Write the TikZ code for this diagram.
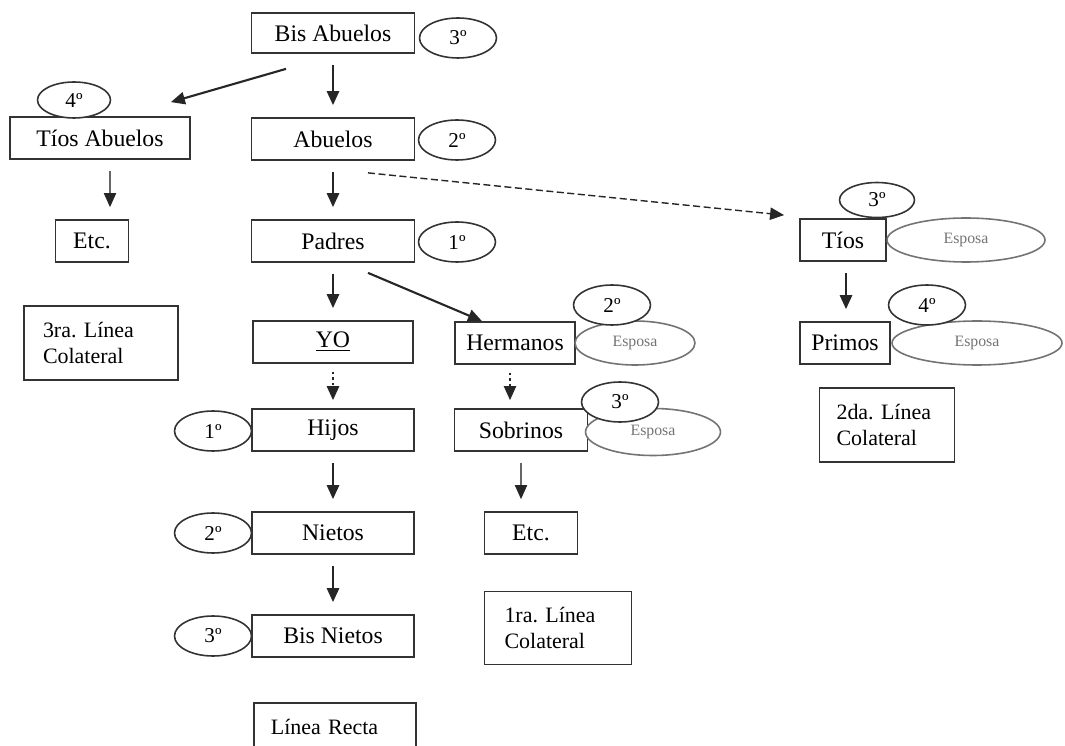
\documentclass[tikz,border=0pt]{standalone}
\usepackage{fontspec}
\setmainfont{Liberation Serif}
\usetikzlibrary{arrows.meta,shapes.geometric,calc}
\tikzset{
	box/.style={draw=black!80, line width=1pt, fill=white, minimum width=3.26cm, minimum height=0.84cm, inner sep=2pt, font=\fontsize{13.5}{15}\selectfont},
	grado/.style={draw=black!80, line width=0.9pt, fill=white, ellipse, minimum width=1.54cm, minimum height=0.8cm, inner sep=0pt, font=\fontsize{12}{14}\selectfont},
	esposa/.style={draw=black!55, line width=0.9pt, fill=white, ellipse, minimum width=2.5cm, minimum height=0.88cm, inner sep=0pt, text=black!55, font=\fontsize{9}{11}\selectfont},
	nota/.style={draw=black!80, line width=1pt, align=left, inner ysep=4pt, font=\fontsize{12.5}{15}\selectfont},
	flecha/.style={-{Triangle[width=7pt,length=8pt,color=black!85]}, line width=1.2pt, black!85, shorten <=0.22cm, shorten >=0.24cm},
}

\begin{document}
\begin{tikzpicture}[x=0.02cm,y=-0.02cm]
	\useasboundingbox (0,0) rectangle (1065,746);
	
	% linea recta
	\node[box, minimum height=0.8cm] (bisab) at (333,33) {Bis Abuelos};
	\node[grado] (g3a) at (458,38) {3º};
	\node[box] (abuelos) at (333,139) {Abuelos};
	\node[grado] (g2a) at (457,140) {2º};
	\node[box] (padres) at (333,241) {Padres};
	\node[grado] (g1a) at (457,242) {1º};
	\node[box, minimum width=3.2cm] (yo) at (333,342) {\underline{YO}};
	\node[box, minimum width=3.24cm] (hijos) at (333,430) {Hijos};
	\node[grado] (g1b) at (213,431) {1º};
	\node[box, minimum width=3.24cm] (nietos) at (333,533) {Nietos};
	\node[grado] (g2c) at (213,533) {2º};
	\node[box, minimum width=3.24cm] (bisn) at (333,636) {Bis Nietos};
	\node[grado] (g3d) at (213,636) {3º};
	\node[nota, anchor=north west, text width=2.56cm, inner xsep=0.34cm, minimum height=0.96cm] (recta) at (253,702) {Línea Recta};
	
	% tercera colateral
	\node[box, minimum width=3.6cm] (tiosab) at (100,138) {Tíos Abuelos};
	\node[grado, minimum width=1.46cm, minimum height=0.72cm] (g4a) at (74,100) {4º};
	\node[box, minimum width=1.46cm] (etca) at (92,241) {Etc.};
	\node[nota, text width=2.32cm, inner xsep=0.38cm, minimum height=1.48cm] (nota3) at (101,343) {3ra.\ Línea\\Colateral};
	
	% primera colateral
	\node[box, minimum width=2.4cm] (herm) at (515,343) {Hermanos};
	\node[esposa, minimum width=2.4cm] (esp1) at (635,343) {Esposa};
	\node[grado] (g2b) at (612,305) {2º};
	\node[box, minimum width=2.66cm] (sobr) at (521,430) {Sobrinos};
	\node[esposa, minimum width=2.7cm, minimum height=0.94cm] (esp4) at (653,432) {Esposa};
	\node[grado] (g3c) at (620,402) {3º};
	\node[box, minimum width=1.86cm] (etcb) at (531,533) {Etc.};
	\node[nota, text width=2.14cm, inner xsep=0.4cm, minimum height=1.46cm] (nota1) at (558,628) {1ra.\ Línea\\Colateral};
	
	% segunda colateral
	\node[box, minimum width=1.72cm] (tios) at (843,240) {Tíos};
	\node[esposa, minimum width=3.16cm] (esp2) at (966,240) {Esposa};
	\node[grado, minimum width=1.5cm, minimum height=0.7cm] (g3b) at (877,200) {3º};
	\node[box, minimum width=1.8cm] (primos) at (845,343) {Primos};
	\node[esposa, minimum width=3.4cm] (esp3) at (977,343) {Esposa};
	\node[grado] (g4b) at (927,305) {4º};
	\node[nota, text width=2.02cm, inner xsep=0.34cm, minimum height=1.48cm] (nota2) at (887,425) {2da.\ Línea\\Colateral};
	
	\foreach \a/\b in {bisab/abuelos, abuelos/padres, padres/yo, hijos/nietos, nietos/bisn}
		\draw[flecha] (\a) -- (\b);
	\draw[flecha] ([xshift=0.06cm]tios.south) -- ([xshift=0.06cm]tios.south |- primos.north);
	\draw[flecha, line width=0.6pt, black!60] ([xshift=0.2cm]tiosab.south) -- ([xshift=0.2cm]tiosab.south |- etca.north);
	\draw[flecha, line width=0.6pt, black!60] (sobr.south) -- (sobr.south |- etcb.north);
	\draw[flecha, dotted, shorten <=0.16cm, shorten >=0.16cm] (yo) -- (hijos);
	\draw[flecha, dotted, line width=0.8pt, shorten <=0.16cm, shorten >=0.16cm] ([xshift=-0.1cm]herm.south) -- ([xshift=-0.1cm]herm.south |- sobr.north);
	\draw[flecha, shorten <=0pt, shorten >=0pt] ([shift={(-0.94cm,-0.3cm)}]bisab.south) -- ([shift={(-0.4cm,0.28cm)}]tiosab.north east);
	\draw[flecha, shorten <=0pt, shorten >=0pt] ([shift={(0.7cm,-0.2cm)}]padres.south) -- ([shift={(-0.66cm,0cm)}]herm.north);
	\draw[flecha, line width=0.8pt, dash pattern=on 4pt off 2pt, shorten <=0pt, shorten >=0pt] ([shift={(0.7cm,-0.24cm)}]abuelos.south) -- ([shift={(-0.3cm,0.06cm)}]tios.north west);
\end{tikzpicture}
\end{document}
